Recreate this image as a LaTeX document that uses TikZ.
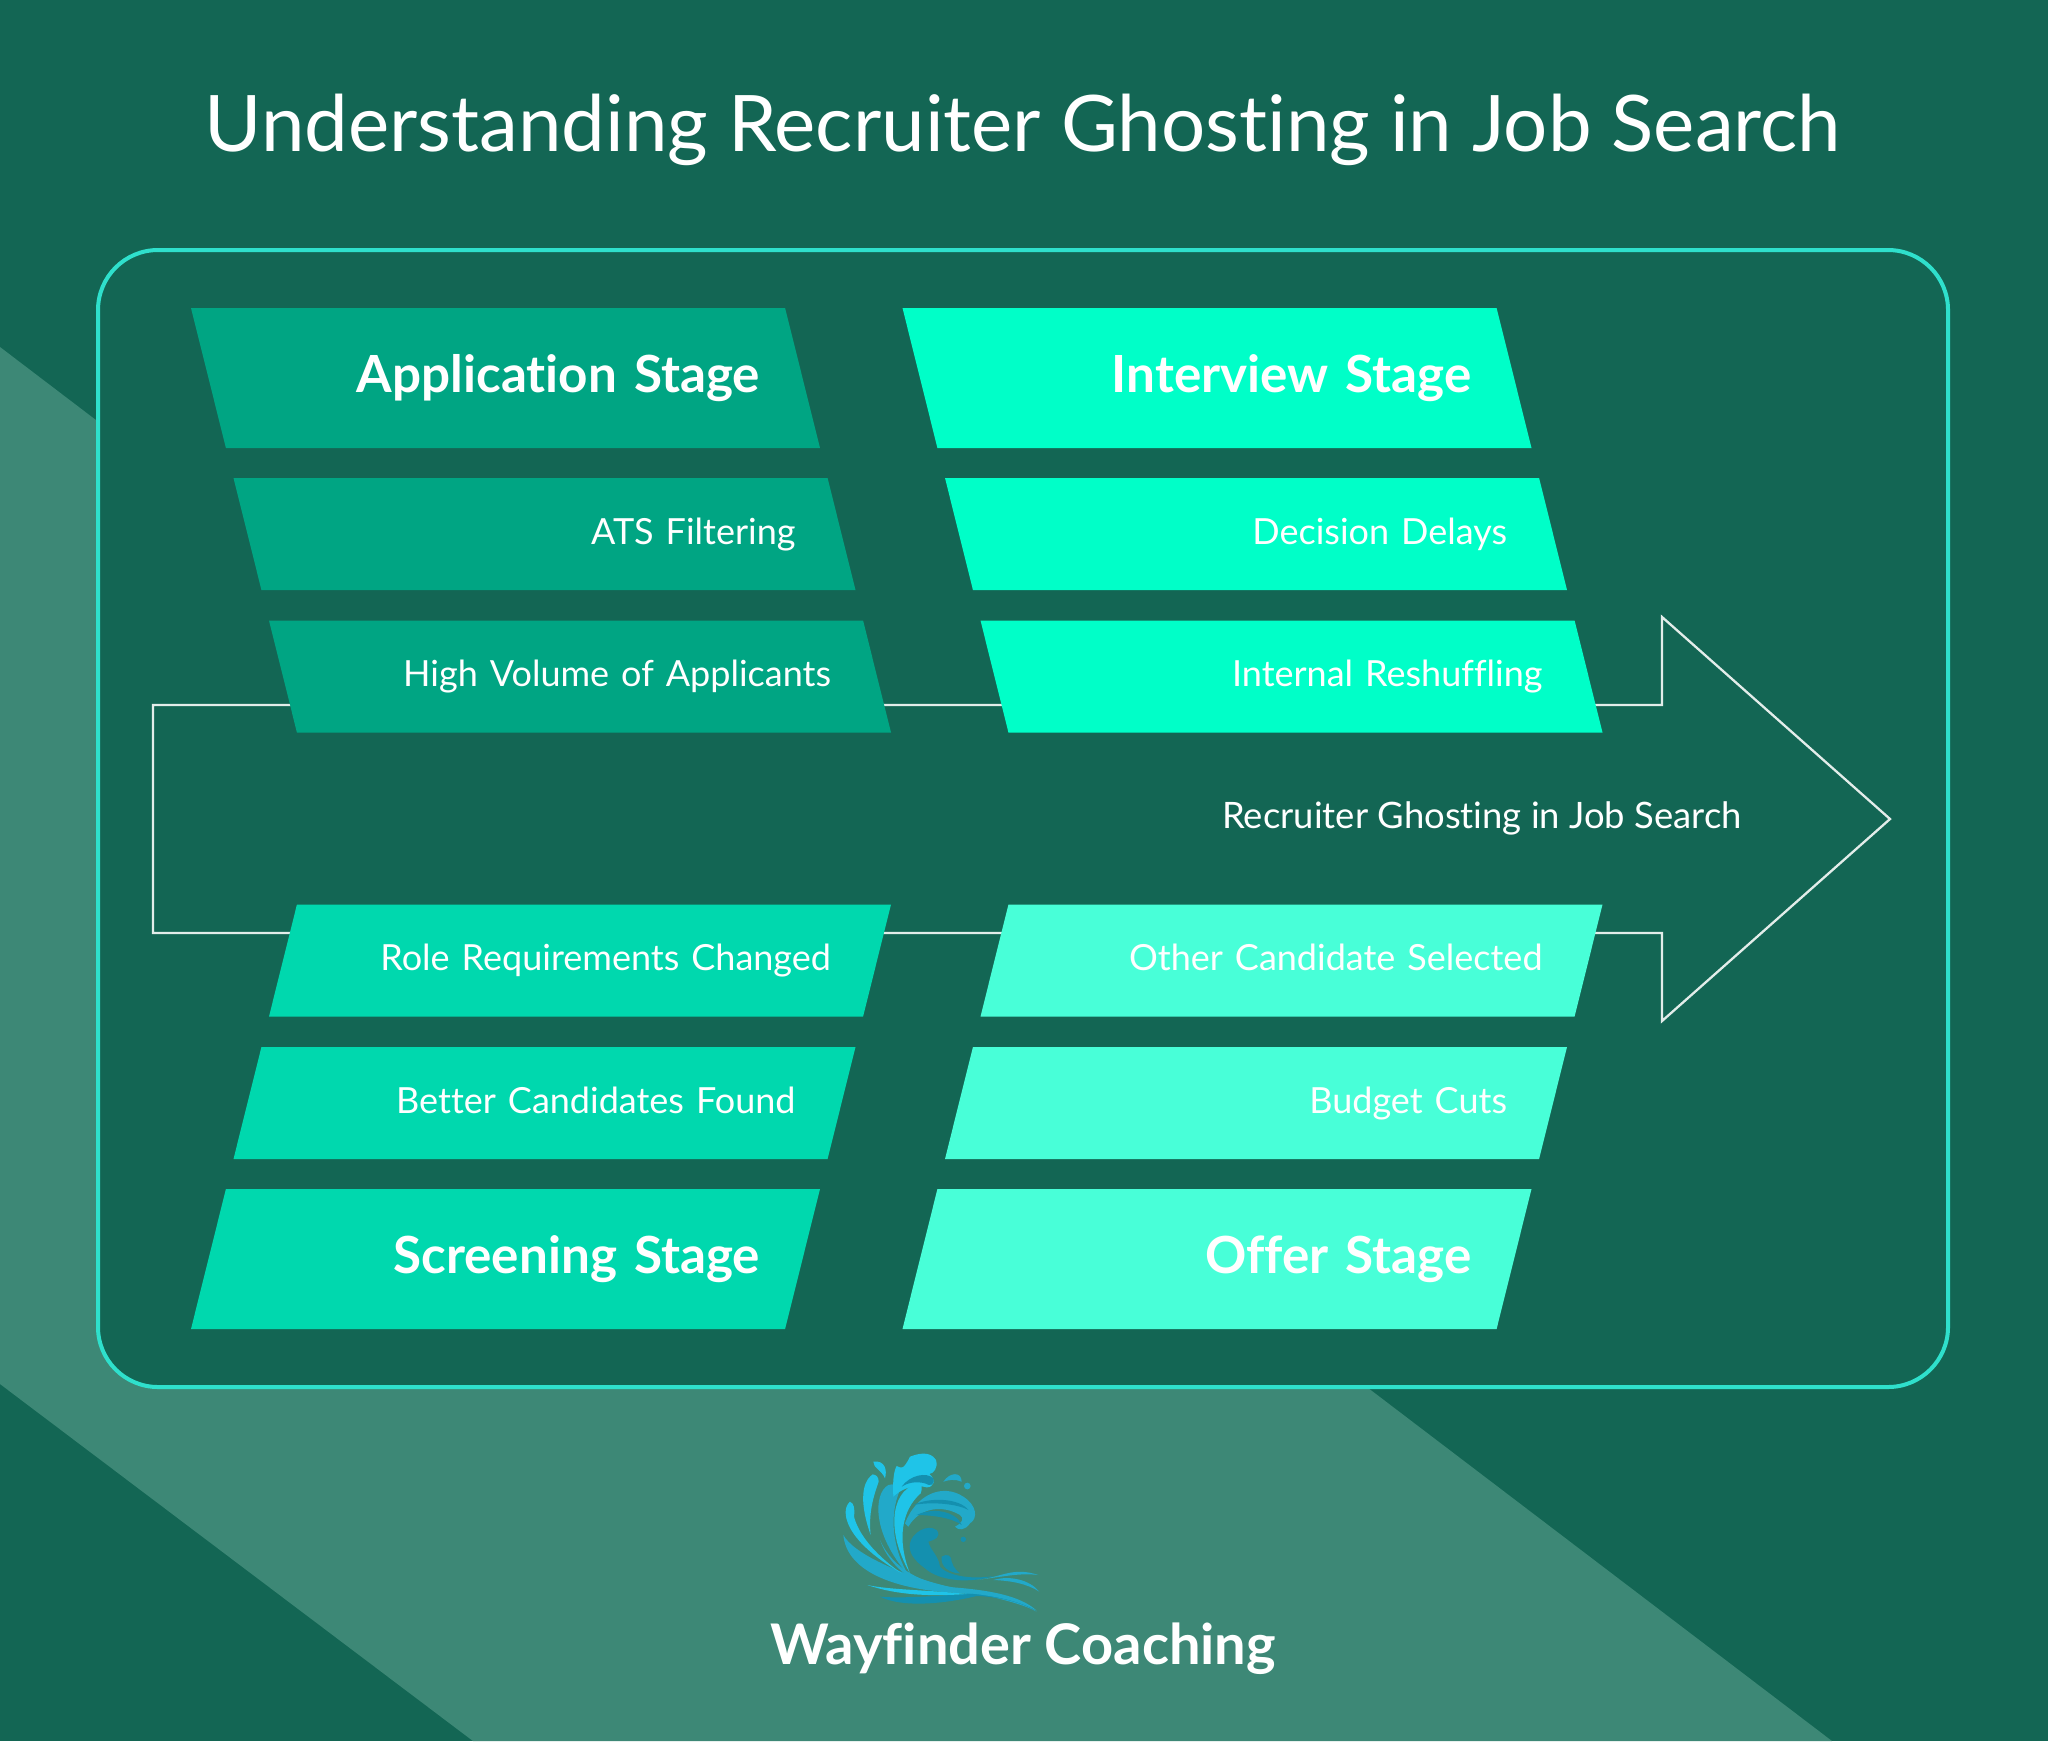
\documentclass[tikz,border=0pt]{standalone}
\usepackage{fontspec}
\usetikzlibrary{calc,positioning,shapes.geometric,backgrounds}
\setmainfont[Ligatures=CommonOff]{Lato}
\definecolor{pagegreen}{HTML}{136654}
\definecolor{bandgreen}{HTML}{3D8876}
\definecolor{cardline}{HTML}{2FE0CC}
\definecolor{appgreen}{HTML}{00A583}
\definecolor{screengreen}{HTML}{00D8AE}
\definecolor{interviewgreen}{HTML}{00FFC8}
\definecolor{offergreen}{HTML}{48FFD8}
\definecolor{wavelight}{HTML}{1FC4E8}
\definecolor{wavemid}{HTML}{22A9C9}
\definecolor{wavedark}{HTML}{1490AF}
\tikzset{
  stagebox/.style={trapezium,trapezium stretches body=true,inner sep=0pt,outer sep=0pt,
    text=white,align=right},
  topleft/.style={trapezium left angle=104,trapezium right angle=76},
  topright/.style={trapezium left angle=76,trapezium right angle=104},
  headbox/.style={stagebox,minimum width=314.5pt,text width=254.5pt,
    text height=42.3pt,text depth=27.7pt,font=\fontsize{25.6}{28}\selectfont\bfseries},
  itembox/.style={stagebox,minimum width=311pt,text width=251pt,
    text height=33.2pt,text depth=22.8pt,font=\fontsize{18}{21}\selectfont},
  ghostline/.style={draw=white!88!pagegreen,line width=1.15pt,line join=miter},
}
\begin{document}
\begin{tikzpicture}[x=0.5pt,y=-0.5pt]
    \useasboundingbox (0,0) rectangle (2048,1741);

    \coordinate (apex) at (1890,819);
    \coordinate (topneck) at (1662,705);
    \coordinate (topbarb) at (1662,617);
    \coordinate (lowneck) at (1662,933);
    \coordinate (lowbarb) at (1662,1021);
    \coordinate (tailtop) at (153,705);
    \coordinate (taillow) at (153,933);

    \node[anchor=base,text=white,font=\fontsize{39}{46}\selectfont] (title) at (1023,151) {Understanding Recruiter Ghosting in Job Search};

    \node[headbox,topleft,fill=appgreen] (application) at (505.5,378) {Application Stage};
    \node[itembox,topleft,fill=appgreen] (ats) at (544.5,534) {ATS Filtering};
    \node[itembox,topleft,fill=appgreen] (volume) at (580,676.5) {High Volume of Applicants};
    \node[itembox,topright,fill=screengreen] (role) at (580,960.5) {Role Requirements Changed};
    \node[itembox,topright,fill=screengreen] (better) at (544.5,1103) {Better Candidates Found};
    \node[headbox,topright,fill=screengreen] (screening) at (505.5,1259) {Screening Stage};

    \node[headbox,topleft,fill=interviewgreen] (interview) at (1217,378) {Interview Stage};
    \node[itembox,topleft,fill=interviewgreen] (delays) at (1256,534) {Decision Delays};
    \node[itembox,topleft,fill=interviewgreen] (reshuffling) at (1291.5,676.5) {Internal Reshuffling};
    \node[itembox,topright,fill=offergreen] (other) at (1291.5,960.5) {Other Candidate Selected};
    \node[itembox,topright,fill=offergreen] (budget) at (1256,1103) {Budget Cuts};
    \node[headbox,topright,fill=offergreen] (offer) at (1217,1259) {Offer Stage};

    \node[anchor=base east,inner sep=0pt,text=white,font=\fontsize{18.2}{21}\selectfont] (ghosting) at (1742,828) {Recruiter Ghosting in Job Search};
    \node[anchor=base,text=white,font=\fontsize{28}{30}\selectfont\bfseries] (brand) at (1023,1664) {Wayfinder Coaching};

    \begin{scope}[on background layer]
    \fill[pagegreen] (0,0) rectangle (2048,1741);
    \fill[bandgreen] (0,347) -- (1832,1741) -- (473,1741) -- (0,1384) -- cycle;
    \draw[cardline,line width=2pt,fill=pagegreen,rounded corners=30pt] (98,250) rectangle (1948,1387);

    % arrow outline runs behind the boxes
    \draw[ghostline] ($(volume.center)+(0,28.5)$) -- ($(reshuffling.center)+(0,28.5)$) -- (topneck) -- (topbarb)
      -- (apex) -- (lowbarb) -- (lowneck) -- ($(other.center)+(0,-27.5)$) -- ($(role.center)+(0,-27.5)$)
      -- (taillow) -- (tailtop) -- cycle;
    \end{scope}

    % wave logo
    \begin{scope}[shift={(830,1440)},scale=0.3333]
    \fill[wavemid] (40,285) .. controls (50,390) and (180,440) .. (330,455) .. controls (450,465) and (560,470) .. (620,515)
      .. controls (560,480) and (400,455) .. (300,425) .. controls (200,395) and (70,340) .. (40,285) -- cycle;
    \fill[wavedark] (150,470) .. controls (220,505) and (350,490) .. (440,468) .. controls (520,470) and (590,495) .. (610,510)
      .. controls (560,470) and (470,455) .. (400,462) .. controls (300,470) and (200,475) .. (150,470) -- cycle;
    \fill[wavelight] (112,435) .. controls (200,465) and (300,470) .. (410,462) .. controls (300,450) and (180,450) .. (112,435) -- cycle;
    \fill[wavelight] (60,185) .. controls (30,210) and (40,300) .. (215,400) .. controls (130,340) and (85,280) .. (72,230)
      .. controls (75,205) and (72,190) .. (60,185) -- cycle;
    \fill[wavelight] (128,103) .. controls (90,130) and (92,200) .. (122,285) .. controls (115,220) and (130,170) .. (146,125)
      .. controls (146,110) and (138,104) .. (128,103) -- cycle;
    \fill[wavelight] (130,65) .. controls (165,60) and (172,90) .. (165,115) .. controls (155,90) and (130,85) .. (130,65) -- cycle;
    \fill[wavemid] (175,135) .. controls (130,160) and (125,280) .. (235,405) .. controls (190,330) and (175,230) .. (210,150)
      .. controls (205,135) and (190,130) .. (175,135) -- cycle;
    \fill[wavelight] (190,170) .. controls (188,130) and (190,95) .. (200,78) .. controls (215,85) and (220,90) .. (240,50)
      .. controls (260,42) and (300,30) .. (318,60) .. controls (325,85) and (310,100) .. (298,102)
      .. controls (320,120) and (312,142) .. (290,142) .. controls (250,130) and (210,150) .. (190,170) -- cycle;
    \fill[wavedark] (215,140) .. controls (240,105) and (290,95) .. (310,115) .. controls (315,135) and (300,140) .. (285,130)
      .. controls (255,122) and (230,130) .. (215,140) -- cycle;
    \fill[wavelight] (270,130) .. controls (190,140) and (160,260) .. (240,400) .. controls (200,300) and (215,210) .. (272,160)
      .. controls (278,145) and (275,133) .. (270,130) -- cycle;
    \fill[wavemid] (225,250) .. controls (260,160) and (340,130) .. (400,170) .. controls (440,195) and (445,235) .. (420,250)
      .. controls (405,272) and (385,272) .. (375,260) .. controls (395,250) and (405,235) .. (390,225)
      .. controls (340,195) and (270,200) .. (235,260) -- cycle;
    \fill[wavedark] (250,195) .. controls (300,170) and (390,175) .. (415,210) .. controls (380,190) and (300,185) .. (250,195) -- cycle;
    \fill[wavedark] (260,225) .. controls (310,200) and (380,215) .. (395,255) .. controls (370,235) and (310,225) .. (260,225) -- cycle;
    \fill[wavedark] (240,310) .. controls (245,280) and (290,250) .. (320,270) .. controls (335,290) and (315,300) .. (295,305)
      .. controls (300,330) and (325,345) .. (330,380) .. controls (350,405) and (420,420) .. (490,408)
      .. controls (420,430) and (330,425) .. (285,385) .. controls (250,360) and (235,335) .. (240,310) -- cycle;
    \fill[wavedark] (335,350) .. controls (350,340) and (365,345) .. (365,365) .. controls (370,385) and (385,395) .. (390,400)
      .. controls (360,400) and (330,380) .. (335,350) -- cycle;
    \fill[wavemid] (150,300) .. controls (190,390) and (280,430) .. (370,442) .. controls (470,450) and (570,465) .. (620,512)
      .. controls (560,478) and (460,460) .. (350,455) .. controls (260,440) and (180,385) .. (150,300) -- cycle;
    \fill[wavemid] (440,420) .. controls (520,410) and (550,380) .. (625,405) .. controls (570,398) and (520,410) .. (440,420) -- cycle;
    \fill[wavemid] (490,420) .. controls (540,405) and (600,420) .. (628,455) .. controls (590,430) and (540,422) .. (490,420) -- cycle;
    \fill[wavemid] (340,125) .. controls (360,95) and (395,95) .. (395,125) .. controls (375,116) and (355,120) .. (340,125) -- cycle;
    \fill[wavemid] (412,138) circle (5pt);
    \fill[wavedark] (400,298) circle (4pt);
    \end{scope}
  \end{tikzpicture}
\end{document}
